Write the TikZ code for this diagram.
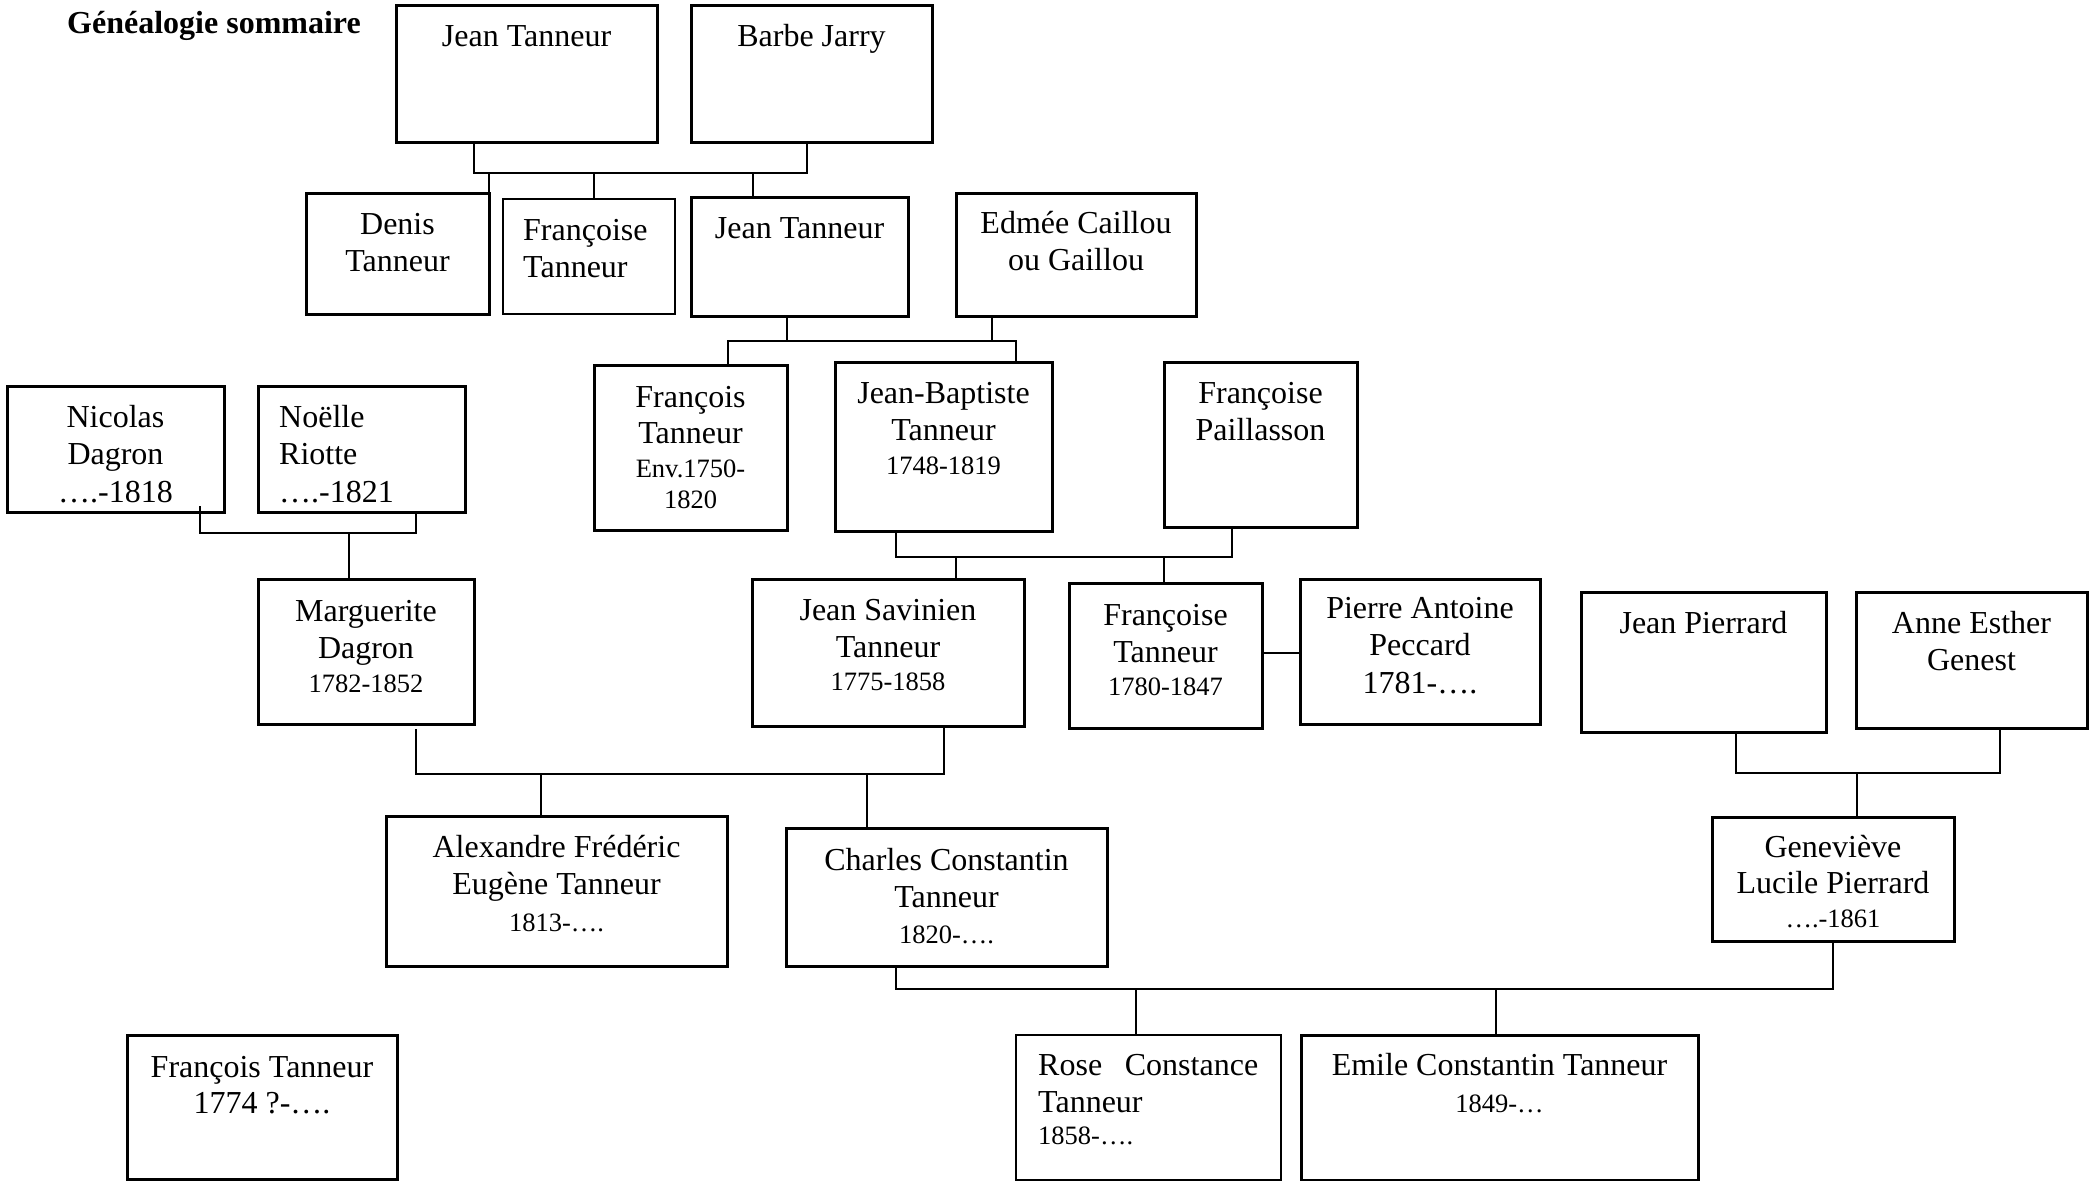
\documentclass[tikz,border=0pt]{standalone}
\usepackage{fontspec}
\setmainfont{Liberation Serif}
\newcommand\yr{\fontsize{26.5}{30}\selectfont}
\newcommand\rows[1]{\begin{tabular}[t]{@{}c@{}}#1\end{tabular}}
\newcommand\lrows[1]{\begin{tabular}[t]{@{}l@{}}#1\end{tabular}}

\begin{document}
\begin{tikzpicture}[x=1pt,y=-1pt]
\tikzstyle{every node}+=[inner sep=0pt]
\tikzstyle{box}=[draw, line width=3pt, outer sep=0pt, anchor=north west]
\tikzstyle{thinbox}=[box, line width=2pt]
\tikzstyle{who}=[anchor=base, font=\fontsize{32}{37.5}\selectfont]
\tikzstyle{link}=[line width=2pt]
\useasboundingbox (0,0) rectangle (2089,1181);
\node[anchor=base west, font=\bfseries\fontsize{32}{37.5}\selectfont] (title) at (67,33) {Généalogie sommaire};
\node[box, minimum width=261pt, minimum height=137pt] (jeanA) at (396,5) {};
\node[who] (jeanAt) at ([yshift=-41pt]jeanA.north) {Jean Tanneur};
\node[box, minimum width=241pt, minimum height=137pt] (barbe) at (691,5) {};
\node[who] (barbet) at ([yshift=-41pt]barbe.north) {Barbe Jarry};
\node[box, minimum width=183pt, minimum height=121pt] (denis) at (306,193) {};
\node[who] (denist) at ([yshift=-41pt]denis.north) {\rows{Denis\\Tanneur}};
\node[thinbox, minimum width=172pt, minimum height=115pt] (francoiseA) at (503,199) {};
\node[who, anchor=base west] (francoiseAt) at ([xshift=20pt,yshift=-41pt]francoiseA.north west) {\lrows{Françoise\\Tanneur}};
\node[box, minimum width=217pt, minimum height=119pt] (jeanB) at (691,197) {};
\node[who] (jeanBt) at ([yshift=-41pt]jeanB.north) {Jean Tanneur};
\node[box, minimum width=240pt, minimum height=123pt] (edmee) at (956,193) {};
\node[who] (edmeet) at ([yshift=-40pt]edmee.north) {\rows{Edmée Caillou\\ou Gaillou}};
\node[box, minimum width=193pt, minimum height=165pt] (francoisB) at (594,365) {};
\node[who] (francoisBt) at ([yshift=-42pt]francoisB.north) {\rows{François\\[-1.5pt]Tanneur\\[-3.5pt]{\yr Env.1750-}\\[-6.5pt]{\yr 1820}}};
\node[box, minimum width=217pt, minimum height=169pt] (jeanbap) at (835,362) {};
\node[who] (jeanbapt) at ([yshift=-41pt]jeanbap.north) {\rows{Jean-Baptiste\\Tanneur\\[-4pt]{\yr 1748-1819}}};
\node[box, minimum width=193pt, minimum height=165pt] (paillasson) at (1164,362) {};
\node[who] (paillassont) at ([yshift=-41pt]paillasson.north) {\rows{Françoise\\Paillasson}};
\node[box, minimum width=217pt, minimum height=126pt] (nicolas) at (7,386) {};
\node[box, minimum width=207pt, minimum height=126pt] (noelle) at (258,386) {};
\begin{scope}
\clip (nicolas.north west) rectangle ([yshift=10pt]noelle.south east);
\node[who] (nicolast) at ([yshift=-41pt]nicolas.north) {\rows{Nicolas\\Dagron\\….-1818}};
\node[who, anchor=base west] (noellet) at ([xshift=21pt,yshift=-41pt]noelle.north west) {\lrows{Noëlle\\Riotte\\….-1821}};
\end{scope}
\node[box, minimum width=216pt, minimum height=145pt] (marguerite) at (258,579) {};
\node[who] (margueritet) at ([yshift=-42pt]marguerite.north) {\rows{Marguerite\\Dagron\\[-3.5pt]{\yr 1782-1852}}};
\node[box, minimum width=272pt, minimum height=147pt] (savinien) at (752,579) {};
\node[who] (savinient) at ([yshift=-41pt]savinien.north) {\rows{Jean Savinien\\Tanneur\\[-4.5pt]{\yr 1775-1858}}};
\node[box, minimum width=193pt, minimum height=145pt] (francoiseC) at (1069,583) {};
\node[who] (francoiseCt) at ([yshift=-42pt]francoiseC.north) {\rows{Françoise\\Tanneur\\[-4.5pt]{\yr 1780-1847}}};
\node[box, minimum width=240pt, minimum height=145pt] (pierre) at (1300,579) {};
\node[who] (pierret) at ([yshift=-39pt]pierre.north) {\rows{Pierre Antoine\\Peccard\\1781-….}};
\node[box, minimum width=245pt, minimum height=140pt] (jeanP) at (1581,592) {};
\node[who] (jeanPt) at ([yshift=-41pt]jeanP.north) {Jean Pierrard};
\node[box, minimum width=231pt, minimum height=136pt] (anne) at (1856,592) {};
\node[who] (annet) at ([yshift=-41pt]anne.north) {\rows{Anne Esther\\Genest}};
\node[box, minimum width=341pt, minimum height=150pt] (alexandre) at (386,816) {};
\node[who] (alexandret) at ([yshift=-41pt]alexandre.north) {\rows{Alexandre Frédéric\\Eugène Tanneur\\[-1pt]{\yr 1813-….}}};
\node[box, minimum width=321pt, minimum height=138pt] (charles) at (786,828) {};
\node[who] (charlest) at ([yshift=-42pt]charles.north) {\rows{Charles Constantin\\Tanneur\\[-1.5pt]{\yr 1820-….}}};
\node[box, minimum width=242pt, minimum height=124pt] (genevieve) at (1712,817) {};
\node[who] (genevievet) at ([yshift=-40pt]genevieve.north) {\rows{Geneviève\\[-1.5pt]Lucile Pierrard\\[-3.5pt]{\yr ….-1861}}};
\node[box, minimum width=270pt, minimum height=144pt] (francoisC) at (127,1035) {};
\node[who] (francoisCt) at ([yshift=-42pt]francoisC.north) {\rows{François Tanneur\\[-1.5pt]1774 ?-….}};
\node[thinbox, minimum width=265pt, minimum height=145pt] (rose) at (1016,1035) {};
\node[who, anchor=base west] (roset) at ([xshift=22pt,yshift=-40pt]rose.north west) {\lrows{\makebox[220pt][s]{Rose Constance}\\Tanneur\\[-5.5pt]{\yr 1858-….}}};
\node[box, minimum width=397pt, minimum height=145pt] (emile) at (1301,1035) {};
\node[who] (emilet) at ([yshift=-40pt]emile.north) {\rows{Emile Constantin Tanneur\\{\yr 1849-…}}};
\coordinate (bar1) at (640,173);
\draw[link] ([xshift=-52.5pt]jeanA.south) |- (bar1) -| ([xshift=-4.5pt]barbe.south);
\draw[link] (denis.north east) |- (bar1);
\draw[link] ([xshift=5pt]francoiseA.north) |- (bar1);
\draw[link] ([xshift=-46.5pt]jeanB.north) |- (bar1);
\coordinate (bar2) at (880,341);
\draw[link] ([xshift=-12.5pt]jeanB.south) |- (bar2);
\draw[link] ([xshift=-84pt]edmee.south) |- (bar2);
\draw[link] ([xshift=37.5pt]francoisB.north) |- (bar2);
\draw[link] ([xshift=72.5pt]jeanbap.north) |- (bar2);
\coordinate (bar3) at (300,533);
\draw[link] ([xshift=-24pt,yshift=6pt]nicolas.south east) |- (bar3);
\draw[link] ([xshift=54.5pt]noelle.south) |- (bar3);
\draw[link] ([xshift=-17pt]marguerite.north) |- (bar3);
\coordinate (bar4) at (1060,557);
\draw[link] ([xshift=-47.5pt]jeanbap.south) |- (bar4);
\draw[link] ([xshift=-28.5pt]paillasson.south) |- (bar4);
\draw[link] ([xshift=68pt]savinien.north) |- (bar4);
\draw[link] ([xshift=-1.5pt]francoiseC.north) |- (bar4);
\draw[link] ([yshift=2.5pt]francoiseC.east) -- ([yshift=-1.5pt]pierre.west);
\coordinate (bar6) at (680,774);
\draw[link] ([xshift=50pt,yshift=-5pt]marguerite.south) |- (bar6);
\draw[link] ([xshift=56pt]savinien.south) |- (bar6);
\draw[link] ([xshift=-15.5pt]alexandre.north) |- (bar6);
\draw[link] ([xshift=-79.5pt]charles.north) |- (bar6);
\coordinate (bar7) at (1860,773);
\draw[link] ([xshift=32.5pt]jeanP.south) |- (bar7);
\draw[link] ([xshift=28.5pt]anne.south) |- (bar7);
\draw[link] ([xshift=24pt]genevieve.north) |- (bar7);
\coordinate (bar8) at (1300,989);
\draw[link] ([xshift=-50.5pt]charles.south) |- (bar8);
\draw[link] (genevieve.south) |- (bar8);
\draw[link] ([xshift=-12.5pt]rose.north) |- (bar8);
\draw[link] ([xshift=-3.5pt]emile.north) |- (bar8);
\end{tikzpicture}
\end{document}
